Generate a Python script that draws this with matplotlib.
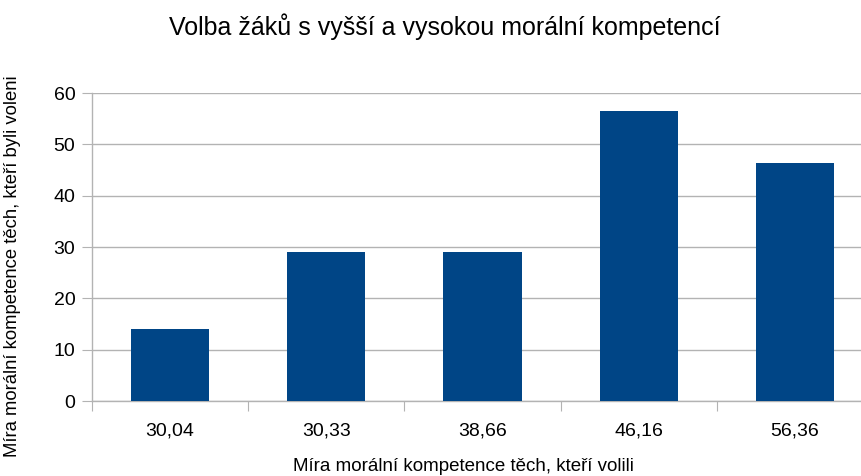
import matplotlib
matplotlib.use("Agg")
import matplotlib.pyplot as plt
import numpy as np

# ---- data ----
kategorie = ["30,04", "30,33", "38,66", "46,16", "56,36"]
hodnoty = [14, 29, 29, 56.5, 46.4]
y_ticks = [0, 10, 20, 30, 40, 50, 60]

titulek = "Volba žáků s vyšší a vysokou morální kompetencí"
x_popis = "Míra morální kompetence těch, kteří volili"
y_popis = "Míra morální kompetence těch, kteří byli voleni"

plt.rcParams['font.family'] = ['Liberation Sans', 'DejaVu Sans']

fig = plt.figure(figsize=(8.61, 4.76), dpi=100)
ax = fig.add_axes([92/861, 75/476, (873-92)/861, (401-93)/476])

x = np.arange(len(kategorie))
ax.bar(x, hodnoty, width=0.5, color="#004586", zorder=3)

ax.set_xlim(-0.5, len(kategorie) - 0.5)
ax.set_ylim(0, 60)
ax.set_yticks(y_ticks)
ax.set_yticklabels([str(t) for t in y_ticks])

# ticks sit on category boundaries, labels in the middle
ax.set_xticks(np.arange(len(kategorie) + 1) - 0.5)
ax.set_xticklabels([])
ax.set_xticks(x, minor=True)
ax.set_xticklabels(kategorie, minor=True)
ax.tick_params(axis="x", which="minor", length=0, pad=15.5, labelsize=14)
ax.tick_params(axis="x", which="major", length=7, color="#b3b3b3", direction="out")
ax.tick_params(axis="y", length=7, color="#b3b3b3", pad=5, labelsize=14)

ax.yaxis.grid(True, color="#b3b3b3", linewidth=1, zorder=0)
for s in ["top", "right"]:
    ax.spines[s].set_visible(False)
for s in ["left", "bottom"]:
    ax.spines[s].set_color("#b3b3b3")
    ax.spines[s].set_linewidth(1)

fig.text(445/861, 1 - 27/476, titulek, ha="center", va="center", fontsize=18)
fig.text(463/861, 1 / 476, x_popis, ha="center", va="bottom", fontsize=13.5)
fig.text(13/861, 1 - 266/476, y_popis, ha="center", va="center", fontsize=13.3, rotation=90)

fig.savefig("out.png", dpi=100)
